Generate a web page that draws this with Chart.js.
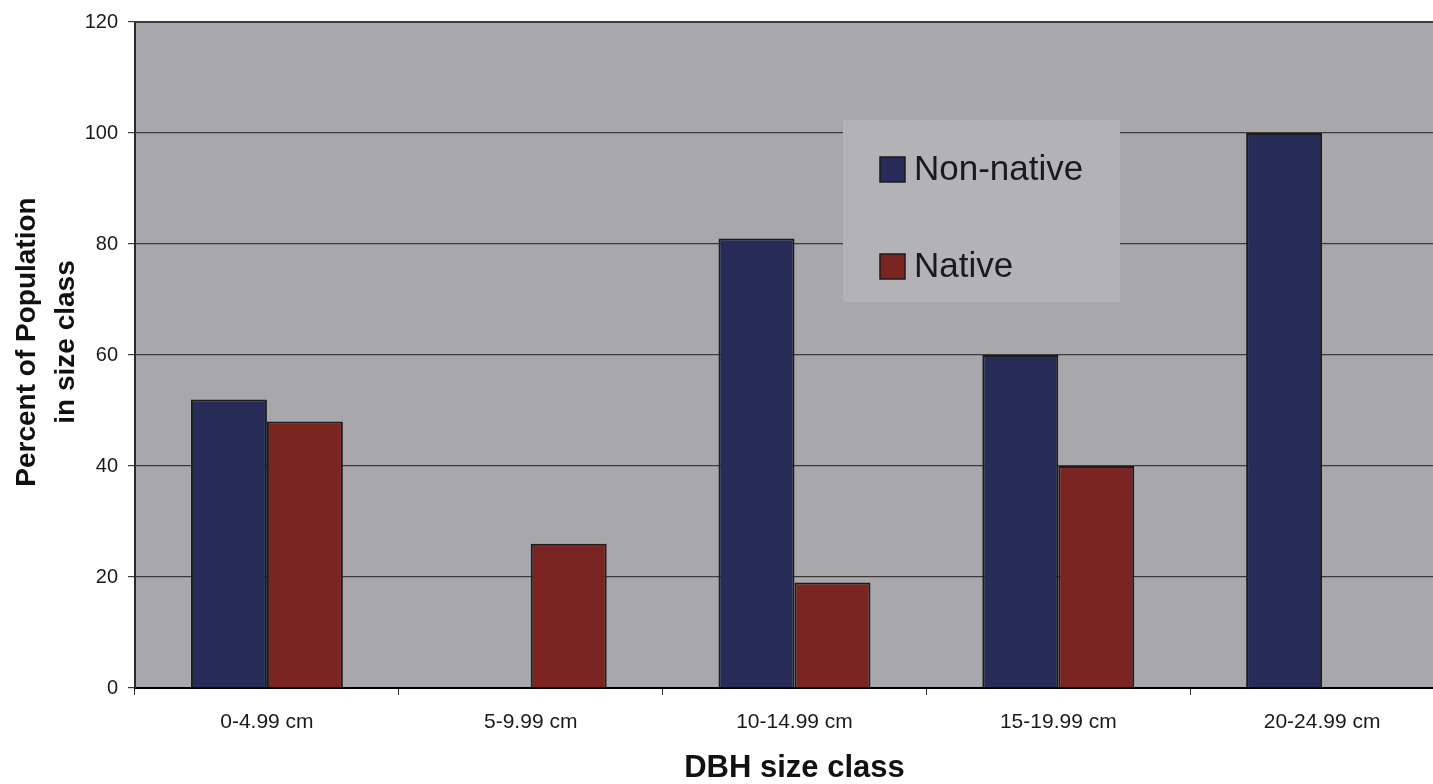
<!DOCTYPE html>
<html>
<head>
<meta charset="utf-8">
<script src="https://cdn.jsdelivr.net/npm/chart.js@4.4.1/dist/chart.umd.min.js"></script>
<style>
  html, body { margin: 0; padding: 0; background: #ffffff; overflow: hidden; width: 1433px; height: 784px; }
  canvas { display: block; }
</style>
</head>
<body>
<canvas id="c" width="1456" height="784"></canvas>
<script>
// DBH size classes and share of each group (percent of population)
const categories = ['0-4.99 cm', '5-9.99 cm', '10-14.99 cm', '15-19.99 cm', '20-24.99 cm'];
const nonNative = [52, 0, 81, 60, 100];
const native = [48, 26, 19, 40, 0];
const yTicks = [0, 20, 40, 60, 80, 100, 120];
const seriesNames = ['Non-native', 'Native'];

const FONT = '"Liberation Sans", Arial, Helvetica, sans-serif';
const INK = '#1c1c1c';

// grey plot panel with a dark top edge
const plotPanel = {
  id: 'plotPanel',
  beforeDraw(chart) {
    const { ctx, chartArea: a } = chart;
    ctx.save();
    ctx.fillStyle = '#a8a7ab';
    ctx.fillRect(a.left, a.top, a.right - a.left, a.bottom - a.top);
    ctx.restore();
  },
  afterDraw(chart) {
    const { ctx, chartArea: a } = chart;
    ctx.save();
    ctx.strokeStyle = '#3a3a3a';
    ctx.lineWidth = 2;
    ctx.beginPath();
    ctx.moveTo(a.left, a.top);
    ctx.lineTo(a.right, a.top);
    ctx.stroke();
    ctx.restore();
  }
};

// legend panel inside the plot area
const innerLegend = {
  id: 'innerLegend',
  afterDraw(chart) {
    const { ctx, chartArea: a } = chart;
    const boxX = a.left + 708, boxY = a.top + 98, boxW = 277, boxH = 182;
    ctx.save();
    ctx.fillStyle = '#b3b2b6';
    ctx.fillRect(boxX, boxY, boxW, boxH);
    chart.data.datasets.forEach((ds, i) => {
      const rowY = boxY + 49 + i * 97;
      ctx.fillStyle = ds.backgroundColor;
      ctx.fillRect(boxX + 37, rowY - 12, 25, 25);
      ctx.strokeStyle = INK;
      ctx.lineWidth = 1.5;
      ctx.strokeRect(boxX + 37, rowY - 12, 25, 25);
      ctx.fillStyle = '#1a1a1a';
      ctx.font = '35px ' + FONT;
      ctx.textAlign = 'left';
      ctx.textBaseline = 'middle';
      ctx.fillText(ds.label, boxX + 71, rowY + 1);
    });
    ctx.restore();
  }
};

// two-line rotated title for the value axis
const valueAxisTitle = {
  id: 'valueAxisTitle',
  afterDraw(chart) {
    const { ctx } = chart;
    const lines = ['Percent of Population', 'in size class'];
    const xs = [27, 66];
    ctx.save();
    ctx.fillStyle = '#111111';
    ctx.font = 'bold 28px ' + FONT;
    ctx.textAlign = 'center';
    ctx.textBaseline = 'middle';
    lines.forEach((t, i) => {
      ctx.save();
      ctx.translate(xs[i], 342);
      ctx.rotate(-Math.PI / 2);
      ctx.fillText(t, 0, 0);
      ctx.restore();
    });
    ctx.restore();
  }
};

new Chart(document.getElementById('c'), {
  type: 'bar',
  data: {
    labels: categories,
    datasets: [
      {
        label: seriesNames[0],
        data: nonNative,
        backgroundColor: '#262b58',
        borderColor: INK,
        borderWidth: 2,
        borderSkipped: 'start'
      },
      {
        label: seriesNames[1],
        data: native,
        backgroundColor: '#7b2523',
        borderColor: INK,
        borderWidth: 2,
        borderSkipped: 'start'
      }
    ]
  },
  options: {
    responsive: false,
    animation: false,
    devicePixelRatio: 1,
    layout: { padding: { top: 17, right: 2, bottom: 0, left: 0 } },
    datasets: { bar: { categoryPercentage: 0.576, barPercentage: 1.0 } },
    plugins: {
      legend: { display: false },
      tooltip: { enabled: false }
    },
    scales: {
      x: {
        offset: true,
        afterFit(scale) { scale.height = 96; },
        grid: {
          offset: true,
          drawOnChartArea: false,
          drawTicks: true,
          tickLength: 7,
          color: '#333333',
          lineWidth: 1
        },
        border: { display: true, color: '#000000', width: 2 },
        ticks: {
          color: '#1a1a1a',
          font: { family: FONT, size: 21 },
          padding: 15,
          maxRotation: 0
        },
        title: {
          display: true,
          text: 'DBH size class',
          color: '#111111',
          font: { family: FONT, size: 31, weight: 'bold', lineHeight: 1.0 },
          padding: { top: 0, bottom: 0 }
        }
      },
      y: {
        min: 0,
        max: 120,
        afterFit(scale) { scale.width = 135; },
        afterBuildTicks(scale) { scale.ticks = yTicks.map(v => ({ value: v })); },
        grid: {
          color: '#3a3a3a',
          lineWidth: 1.2,
          drawTicks: true,
          tickLength: 7
        },
        border: { display: true, color: '#2a2a2a', width: 2 },
        ticks: {
          color: '#1a1a1a',
          font: { family: FONT, size: 20 },
          padding: 10
        }
      }
    }
  },
  plugins: [plotPanel, innerLegend, valueAxisTitle]
});
</script>
</body>
</html>
